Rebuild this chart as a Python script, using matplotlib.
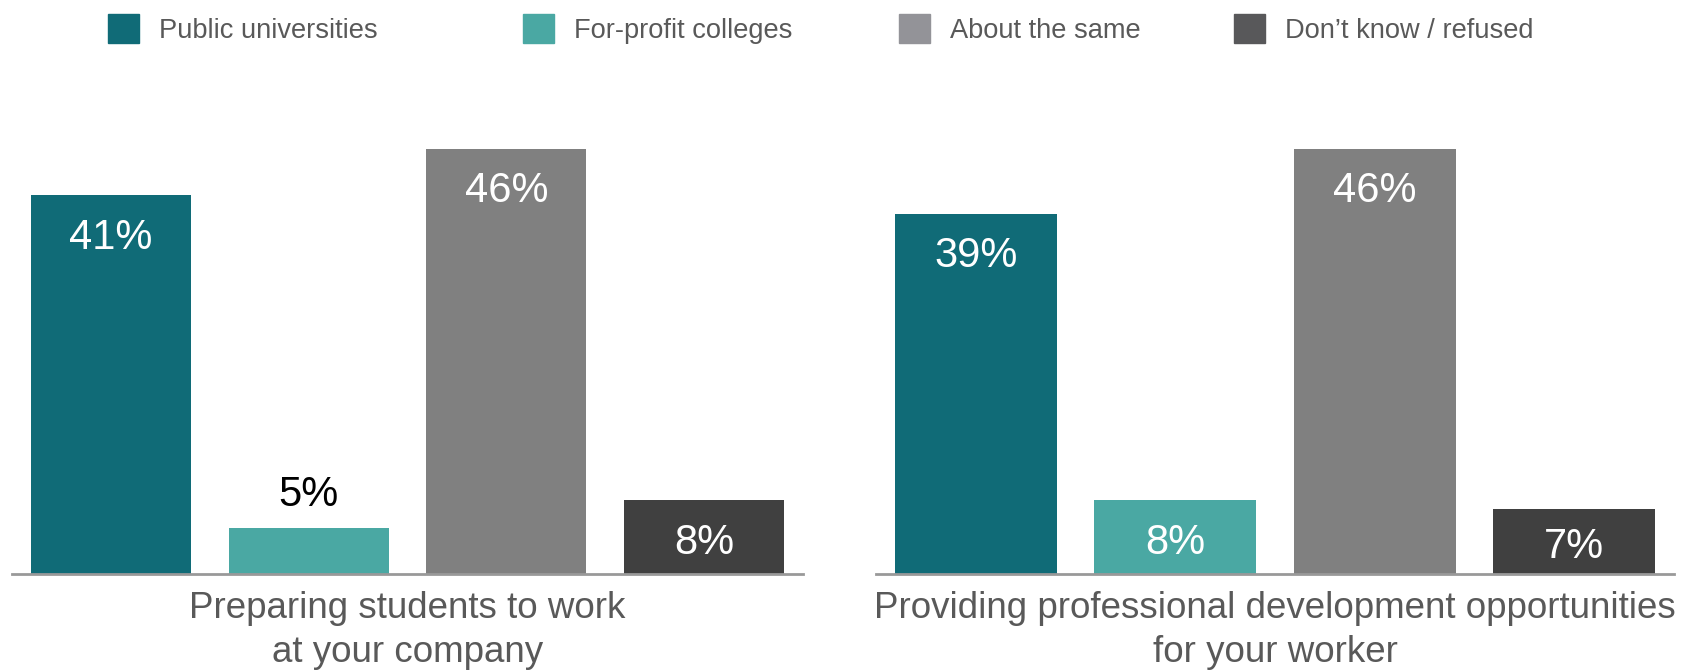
import matplotlib.pyplot as plt
from matplotlib.patches import Rectangle

plt.rcParams['font.family'] = ['Liberation Sans', 'DejaVu Sans']

# Survey answers, percent of respondents
series = ['Public universities', 'For-profit colleges', 'About the same', 'Don\u2019t know / refused']
topics = ['Preparing students to work\nat your company',
          'Providing professional development opportunities\nfor your worker']
values_prep = [41, 5, 46, 8]
values_dev = [39, 8, 46, 7]

bar_colors = ['#106b77', '#4aa8a3', '#808080', '#404040']
legend_colors = ['#106b77', '#4aa8a3', '#939398', '#58585a']
text_grey = '#595959'

fig = plt.figure(figsize=(16.93, 6.72), dpi=100)

panels = [
    (fig.add_axes([0.0071, 0.1458, 0.4672, 0.6875]), values_prep, topics[0]),
    (fig.add_axes([0.5174, 0.1458, 0.4714, 0.6875]), values_dev, topics[1]),
]

for ax, vals, topic in panels:
    x = range(len(vals))
    ax.bar(x, vals, width=0.81, color=bar_colors)
    ax.set_xlim(-0.5, 3.5)
    ax.set_ylim(0, 50)
    for i, v in enumerate(vals):
        if v < 6:
            # too thin to hold the label, put it above
            ax.text(i, v + 3.5, f'{v}%', ha='center', va='center', fontsize=30, color='black')
        elif v < 10:
            ax.text(i, v / 2 - 0.6, f'{v}%', ha='center', va='center', fontsize=30, color='white')
        else:
            ax.text(i, v - 4.6, f'{v}%', ha='center', va='center', fontsize=30, color='white')
    for s in ['top', 'right', 'left']:
        ax.spines[s].set_visible(False)
    ax.spines['bottom'].set_color('#999999')
    ax.spines['bottom'].set_linewidth(2)
    ax.set_yticks([])
    ax.set_xticks([1.5])
    ax.set_xticklabels([topic], fontsize=26.5, color=text_grey, linespacing=1.33)
    ax.tick_params(axis='x', length=0, pad=12)

# legend row across the top
leg_x = [108, 523, 899, 1234]
W, H = 1693, 672
for name, c, px in zip(series, legend_colors, leg_x):
    fig.patches.append(Rectangle((px / W, 1 - 43 / H), 31 / W, 29 / H,
                                 transform=fig.transFigure, color=c))
    fig.text((px + 51) / W, 1 - 31 / H, name, fontsize=19.6, color=text_grey,
             ha='left', va='center')

fig.savefig('out.png', dpi=100)
